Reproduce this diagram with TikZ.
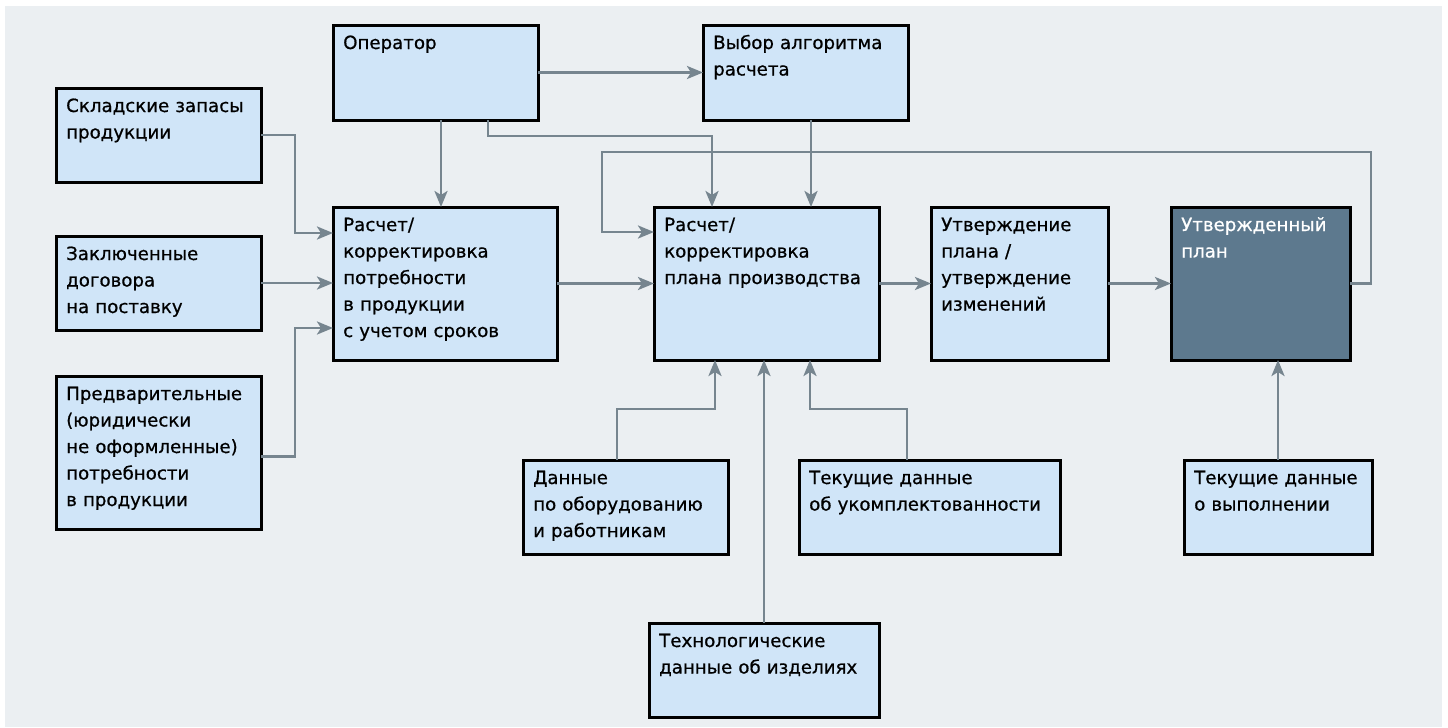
\documentclass[tikz,border=0pt]{standalone}
\usepackage{fontspec}
\setmainfont{DejaVu Sans}[FakeBold=0.7]
\usetikzlibrary{arrows.meta,calc}
\definecolor{bgc}{HTML}{EBEFF2}
\definecolor{boxc}{HTML}{D0E5F8}
\definecolor{darkc}{HTML}{5D798E}
\definecolor{linec}{HTML}{76858F}
\tikzset{
  box/.style={draw=black, line width=3pt, fill=boxc, anchor=north west, inner sep=0pt, outer sep=0pt},
  darkbox/.style={box, fill=darkc},
  txt/.style={anchor=base west, inner sep=0pt, text width=300pt, align=left,
    font=\fontsize{18.2}{26.5}\selectfont},
  arr/.style={draw=linec, line width=2.8pt, -{Stealth[length=16pt,width=13pt,inset=4pt]}},
}
\begin{document}
\begin{tikzpicture}[x=1pt,y=-1pt]
\useasboundingbox (0,0) rectangle (1448,728);
\fill[bgc] (5,6) rectangle (1442,727);

% boxes
\node[box, minimum width=205pt, minimum height=95pt] (op) at (333,25) {};
\node[box, minimum width=205pt, minimum height=95pt] (alg) at (703,25) {};
\node[box, minimum width=205pt, minimum height=94pt] (skl) at (56,88) {};
\node[box, minimum width=205pt, minimum height=94pt] (zak) at (56,236) {};
\node[box, minimum width=205pt, minimum height=153pt] (pre) at (56,376) {};
\node[box, minimum width=224pt, minimum height=153pt] (r1) at (333,207) {};
\node[box, minimum width=225pt, minimum height=153pt] (r2) at (654,207) {};
\node[box, minimum width=177pt, minimum height=153pt] (utv) at (931,207) {};
\node[darkbox, minimum width=179pt, minimum height=153pt] (plan) at (1171,207) {};
\node[box, minimum width=205pt, minimum height=94pt] (dan) at (523,460) {};
\node[box, minimum width=261pt, minimum height=94pt] (tek) at (799,460) {};
\node[box, minimum width=230pt, minimum height=94pt] (teh) at (649,623) {};
\node[box, minimum width=188pt, minimum height=94pt] (vyp) at (1184,460) {};

% texts
\node[txt] (opT) at ([shift={(10,24)}]op.north west) {Оператор};
\node[txt] (algT) at ([shift={(10,24)}]alg.north west) {Выбор алгоритма\\расчета};
\node[txt] (sklT) at ([shift={(10,24)}]skl.north west) {Складские запасы\\продукции};
\node[txt] (zakT) at ([shift={(10,24)}]zak.north west) {Заключенные\\договора\\на поставку};
\node[txt] (preT) at ([shift={(10,24)}]pre.north west) {Предварительные\\(юридически\\не оформленные)\\потребности\\в продукции};
\node[txt] (r1T) at ([shift={(10,24)}]r1.north west) {Расчет/\\корректировка\\потребности\\в продукции\\с учетом сроков};
\node[txt] (r2T) at ([shift={(10,24)}]r2.north west) {Расчет/\\корректировка\\плана производства};
\node[txt] (utvT) at ([shift={(10,24)}]utv.north west) {Утверждение\\плана /\\утверждение\\изменений};
\node[txt, text=white] (planT) at ([shift={(10,24)}]plan.north west) {Утвержденный\\план};
\node[txt] (danT) at ([shift={(10,24)}]dan.north west) {Данные\\по оборудованию\\и работникам};
\node[txt] (tekT) at ([shift={(10,24)}]tek.north west) {Текущие данные\\об укомплектованности};
\node[txt] (tehT) at ([shift={(10,24)}]teh.north west) {Технологические\\данные об изделиях};
\node[txt] (vypT) at ([shift={(10,24)}]vyp.north west) {Текущие данные\\о выполнении};

% free corners of the feedback line
\coordinate (fbR) at (1371,152);
\coordinate (fbL) at (602,152);

% connectors
\draw[arr] (op.east) -- (op.east -| alg.west);
\draw[arr] ([xshift=108pt]op.south west) -- ([xshift=108pt]r1.north west);
\draw[arr] ([xshift=155pt]op.south west) -- ++(0,16) -| ([xshift=58pt]r2.north west);
\draw[arr] ([xshift=108pt]alg.south west) -- ([xshift=108pt]alg.south west |- r2.north);
\draw[arr] (plan.east) -| (fbR) -- (fbL) |- ([yshift=-25pt]r2.north west);
\draw[arr] (skl.east) -- ++(34,0) |- ([yshift=-26pt]r1.north west);
\draw[arr] (zak.east) -- (zak.east -| r1.west);
\draw[arr] ([yshift=-4pt]pre.east) -- ++(34,0) |- ([yshift=-121pt]r1.north west);
\draw[arr] (r1.east) -- (r1.east -| r2.west);
\draw[arr] (r2.east) -- (r2.east -| utv.west);
\draw[arr] (utv.east) -- (utv.east -| plan.west);
\draw[arr] ([xshift=94pt]dan.north west) -- ++(0,-51) -| ([xshift=61pt]r2.south west);
\draw[arr] ([xshift=115pt]teh.north west) -- ([xshift=115pt]teh.north west |- r2.south);
\draw[arr] ([xshift=108pt]tek.north west) -- ++(0,-51) -| ([xshift=156pt]r2.south west);
\draw[arr] (vyp.north) -- (vyp.north |- plan.south);
\end{tikzpicture}
\end{document}
